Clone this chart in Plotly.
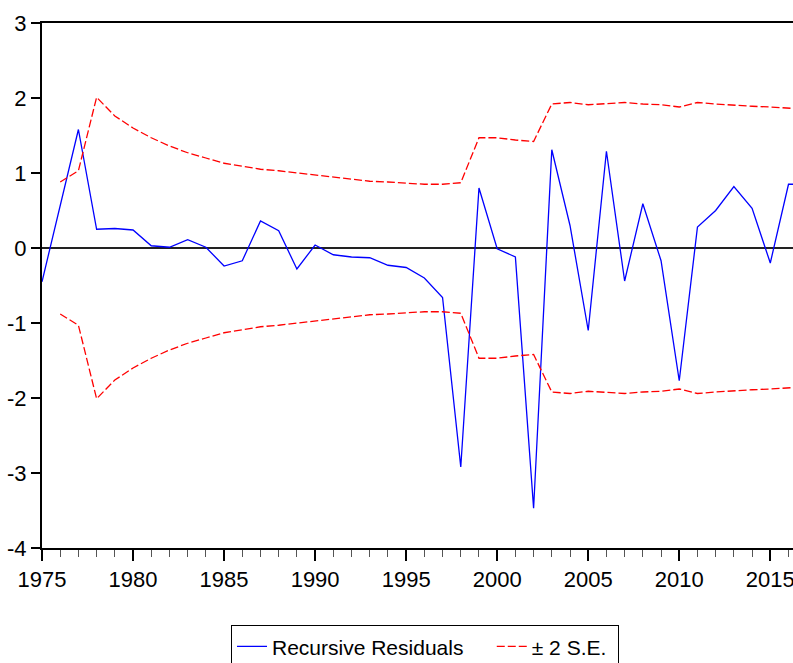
import plotly.graph_objects as go

years = list(range(1975, 2018))

residuals = [-0.45, 0.56, 1.58, 0.25, 0.26, 0.24, 0.03, 0.01, 0.11, 0.01,
             -0.24, -0.17, 0.36, 0.23, -0.28, 0.04, -0.09, -0.12, -0.13, -0.23,
             -0.26, -0.40, -0.66, -2.92, 0.80, -0.01, -0.12, -3.47, 1.31, 0.30,
             -1.10, 1.29, -0.44, 0.59, -0.17, -1.77, 0.28, 0.50, 0.82, 0.53,
             -0.20, 0.85, 0.85]

upper_se = [None, 0.88, 1.03, 2.01, 1.76, 1.60, 1.47, 1.36, 1.27, 1.20,
            1.13, 1.09, 1.05, 1.03, 1.00, 0.98, 0.95, 0.92, 0.89, 0.88,
            0.86, 0.85, 0.85, 0.87, 1.47, 1.47, 1.44, 1.42, 1.92, 1.94,
            1.91, 1.92, 1.94, 1.92, 1.91, 1.88, 1.94, 1.92, 1.90, 1.89,
            1.88, 1.86, 1.85]
lower_se = [None if v is None else -v for v in upper_se]

x_ticks = [1975, 1980, 1985, 1990, 1995, 2000, 2005, 2010, 2015]
y_ticks = [-4, -3, -2, -1, 0, 1, 2, 3]

FONT = "Arial, Liberation Sans, sans-serif"
NBSP = "\u00a0"

fig = go.Figure()
fig.add_trace(go.Scatter(x=years, y=residuals, mode="lines",
                         name="Recursive Residuals" + NBSP * 4,
                         line=dict(color="#0000FF", width=1.3)))
fig.add_trace(go.Scatter(x=years, y=upper_se, mode="lines", name="± 2 S.E." + NBSP,
                         line=dict(color="#FF0000", width=1.3, dash="8px,3px")))
fig.add_trace(go.Scatter(x=years, y=lower_se, mode="lines", name="± 2 S.E.",
                         showlegend=False,
                         line=dict(color="#FF0000", width=1.3, dash="8px,3px")))

x_left_px, x_right_px, px_per_year = 42.3, 793, 18.2
x_end = 1975 + (x_right_px - x_left_px) / px_per_year

fig.update_layout(
    width=793, height=663,
    margin=dict(l=42, r=0, t=23, b=115, autoexpand=False),
    paper_bgcolor="white", plot_bgcolor="white",
    font=dict(family=FONT, size=22, color="black"),
    showlegend=True,
    legend=dict(orientation="h", x=0.51, xanchor="center", y=-0.147, yanchor="top",
                bordercolor="black", borderwidth=1, bgcolor="white",
                font=dict(family=FONT, size=21, color="black"),
                itemwidth=30, tracegroupgap=0),
    xaxis=dict(range=[1975, x_end], tickvals=x_ticks, ticktext=[str(v) for v in x_ticks],
               showgrid=False, zeroline=False, ticklabeloverflow="allow",
               showline=True, linecolor="black", linewidth=2, mirror=True,
               ticks="outside", ticklen=11, tickwidth=1.5, tickcolor="black",
               minor=dict(dtick=1, tick0=1975, ticks="outside", ticklen=7,
                          tickwidth=1, tickcolor="#555555", showgrid=False),
               tickfont=dict(family=FONT, size=22, color="black")),
    yaxis=dict(range=[-4, 3], tickvals=y_ticks, ticktext=[str(v) for v in y_ticks],
               showgrid=False, zeroline=True, zerolinecolor="#222222", zerolinewidth=1.5,
               showline=True, linecolor="black", linewidth=2,
               ticks="outside", ticklen=9, tickwidth=1.5, tickcolor="black",
               tickfont=dict(family=FONT, size=22, color="black")),
)

fig.write_html("out.html")
